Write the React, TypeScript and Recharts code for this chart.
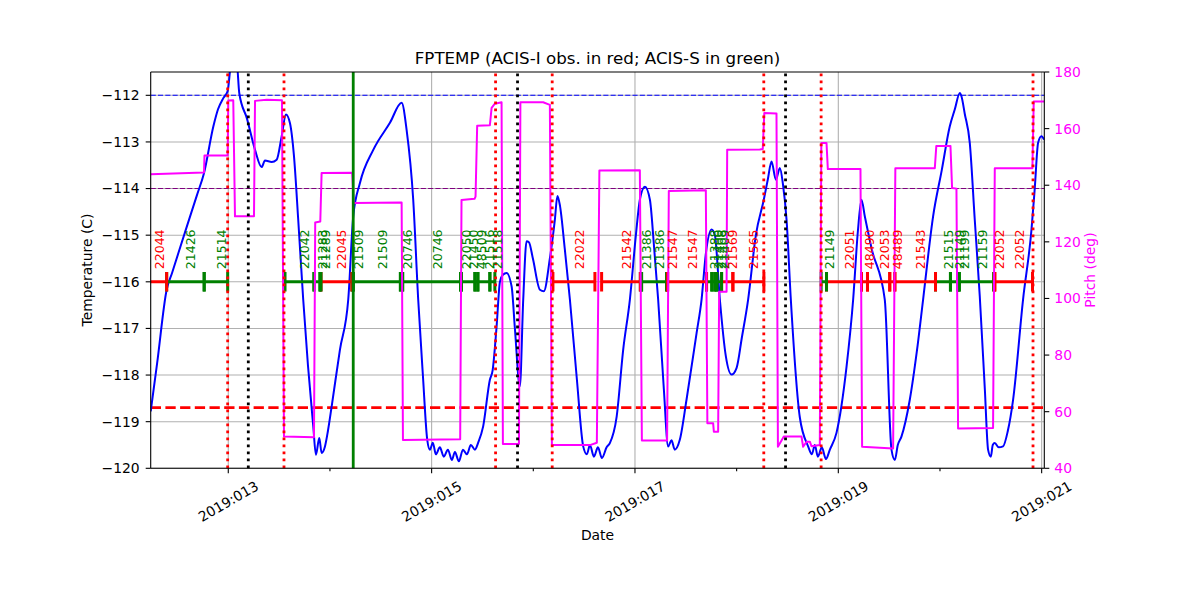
import React from 'react';
import { ComposedChart, Line, XAxis, YAxis, ReferenceLine, Scatter } from 'recharts';

// ---- Temperature (FPTEMP, deg C) vs day of year 2019 ----
const tempDays = [
  12.237, 12.300, 12.394, 12.447, 12.574, 12.692, 12.761, 12.853, 12.899, 12.951,
  12.994, 13.031, 13.083, 13.108,
  13.184, 13.263, 13.328, 13.361, 13.427, 13.476, 13.525, 13.567, 13.607, 13.646,
  13.688, 13.737, 13.784, 13.836, 13.862, 13.895, 13.918, 13.951, 13.980, 14.017,
  14.098, 14.180, 14.229, 14.295, 14.426, 14.590, 14.705, 14.754, 14.819, 14.868,
  14.914, 14.957, 14.983, 15.012, 15.042, 15.081, 15.120, 15.160, 15.199, 15.229,
  15.268, 15.308, 15.347, 15.386, 15.426, 15.458, 15.507, 15.573, 15.600, 15.639,
  15.672, 15.701, 15.737, 15.787, 15.819, 15.868, 15.901, 15.934, 15.957, 15.996,
  16.065, 16.104, 16.163, 16.212, 16.237, 16.261, 16.310, 16.360, 16.429, 16.491,
  16.527, 16.557, 16.596, 16.636, 16.675, 16.721, 16.753, 16.820, 16.884, 16.950,
  17.009, 17.048, 17.098, 17.147, 17.186, 17.228, 17.284, 17.326, 17.359, 17.392,
  17.441, 17.507, 17.606, 17.655, 17.697, 17.753, 17.786, 17.835, 17.894, 17.950,
  17.999, 18.051, 18.113, 18.189, 18.267, 18.307, 18.343, 18.386, 18.425, 18.455,
  18.491, 18.533, 18.621, 18.703, 18.740, 18.769, 18.799, 18.838, 18.878, 18.917,
  18.982, 19.081, 19.146, 19.193, 19.228, 19.261, 19.329, 19.457, 19.523, 19.556,
  19.585, 19.621, 19.703, 19.772, 19.834, 19.932, 20.018, 20.096, 20.146, 20.195,
  20.211, 20.244, 20.293, 20.342, 20.391, 20.441, 20.473, 20.500, 20.519, 20.539,
  20.578, 20.620, 20.667, 20.719, 20.817, 20.900, 20.932, 20.965, 20.998, 21.024,
];
const tempValues = [
  -118.78, -117.75, -116.17, -115.81, -114.94, -114.14, -113.67, -112.67, -112.30, -112.06,
  -111.91, -111.30, -111.30, -111.95,
  -112.50, -113.17, -113.54, -113.40, -113.43, -113.38, -112.88, -112.41, -112.60, -113.30,
  -114.67, -116.38, -117.80, -119.10, -119.71, -119.35, -119.67, -119.53, -119.20, -118.67,
  -117.46, -116.38, -114.60, -113.88, -113.17, -112.59, -112.16, -112.74, -114.24, -116.38,
  -118.00, -119.39, -119.60, -119.45, -119.70, -119.55, -119.75, -119.60, -119.82, -119.65,
  -119.85, -119.60, -119.70, -119.50, -119.60, -119.45, -119.10, -118.10, -117.90, -116.96,
  -116.00, -115.85, -115.81, -116.10, -117.00, -118.24, -116.38, -115.13, -115.15, -115.50,
  -116.17, -116.20, -115.50, -114.67, -114.16, -114.35, -115.30, -116.38, -118.10, -119.53,
  -119.70, -119.50, -119.75, -119.55, -119.78, -119.55, -119.46, -118.89, -117.46, -116.38,
  -115.00, -114.24, -113.96, -114.24, -115.20, -116.38, -118.30, -119.53, -119.40, -119.60,
  -119.39, -118.53, -117.10, -116.38, -115.40, -114.88, -115.00, -116.38, -117.60, -117.99,
  -117.85, -117.20, -116.38, -115.00, -114.24, -113.80, -113.42, -113.81, -113.56, -113.90,
  -114.67, -116.38, -118.90, -119.53, -119.70, -119.50, -119.75, -119.55, -119.80, -119.60,
  -119.24, -117.82, -116.38, -114.90, -114.24, -114.60, -115.30, -116.38, -119.60, -119.82,
  -119.50, -119.32, -118.53, -117.50, -116.38, -114.60, -113.60, -112.67, -112.30, -111.95,
  -112.02, -112.40, -113.02, -114.67, -116.30, -118.30, -119.60, -119.75, -119.50, -119.46,
  -119.55, -119.53, -119.20, -118.53, -116.38, -114.88, -114.00, -113.02, -112.88, -112.95,
];

// ---- Pitch (deg) ----
const pitchDays = [
  12.237, 12.761, 12.766, 12.994, 13.000, 13.049, 13.066, 13.253, 13.263, 13.378,
  13.528, 13.548, 13.843, 13.855, 13.905, 13.918, 14.219, 14.233, 14.705, 14.718,
  15.281, 15.294, 15.422, 15.432, 15.448, 15.573, 15.590, 15.622, 15.688, 15.701,
  15.859, 15.873, 16.097, 16.163, 16.183, 16.557, 16.625, 16.650, 17.048, 17.068,
  17.316, 17.333, 17.697, 17.712, 17.769, 17.776, 17.818, 17.828, 17.901, 17.907,
  18.228, 18.257, 18.272, 18.392, 18.406, 18.464, 18.638, 18.654, 18.688, 18.720,
  18.736, 18.818, 18.833, 18.884, 18.897, 19.218, 19.234, 19.539, 19.561, 19.949,
  19.964, 20.103, 20.119, 20.162, 20.178, 20.522, 20.539, 20.909, 20.922, 21.024,
];
const pitchValues = [
  143.9, 144.5, 150.5, 150.5, 169.9, 170.0, 129.0, 129.0, 169.8, 170.2,
  170.0, 51.2, 51.0, 126.8, 127.2, 144.3, 144.4, 133.7, 133.9, 50.0,
  50.3, 134.8, 135.2, 136.0, 161.0, 161.2, 167.3, 168.8, 169.3, 48.6,
  48.6, 169.3, 169.3, 168.4, 48.2, 48.2, 49.0, 145.2, 145.3, 49.8,
  49.8, 138.0, 138.2, 55.9, 55.9, 52.9, 52.9, 102.4, 102.4, 152.5,
  152.6, 152.8, 165.5, 165.3, 47.6, 51.2, 51.2, 47.6, 49.4, 49.4,
  47.8, 48.2, 154.9, 154.9, 145.7, 145.7, 47.6, 47.0, 146.0, 146.0,
  153.9, 153.9, 139.0, 138.8, 54.1, 54.2, 146.0, 146.0, 169.6, 169.6,
];

// ---- Observations (ACIS-I red, ACIS-S green) ----
const obsIds = [
  '22044', '21426', '21514', '22042', '21283', '21289', '22045', '21509', '21509', '20746',
  '20746', '22050', '21450', '48509', '21516', '21518', '22022', '21542', '21386', '21386',
  '21547', '21547', '21388', '21400', '21408', '21409', '21569', '21565', '21149', '22051',
  '48490', '22053', '48489', '21543', '21515', '21149', '21199', '21159', '22052', '22052',
];
const obsStart = [
  12.154, 12.394, 12.763, 13.558, 13.843, 13.902, 13.912, 14.216, 14.229, 14.693,
  14.715, 15.285, 15.293, 15.426, 15.455, 15.573, 16.193, 16.672, 17.053, 17.065,
  17.311, 17.321, 17.704, 17.756, 17.786, 17.805, 17.852, 17.963, 18.831, 18.884,
  19.228, 19.287, 19.506, 19.556, 19.956, 20.103, 20.178, 20.190, 20.529, 20.539,
];
const obsStop = [
  12.394, 12.763, 12.994, 13.843, 13.902, 13.912, 14.216, 14.229, 14.693, 14.715,
  15.285, 15.293, 15.426, 15.455, 15.573, 15.622, 16.606, 17.053, 17.065, 17.311,
  17.321, 17.704, 17.756, 17.786, 17.805, 17.852, 17.963, 18.268, 18.884, 19.228,
  19.287, 19.506, 19.556, 19.956, 20.103, 20.178, 20.190, 20.529, 20.539, 20.910,
];
const obsKind = [
  'I', 'S', 'S', 'S', 'S', 'S', 'I', 'S', 'S', 'S',
  'S', 'S', 'S', 'S', 'S', 'S', 'I', 'I', 'S', 'S',
  'I', 'I', 'S', 'S', 'S', 'S', 'I', 'I', 'S', 'I',
  'I', 'I', 'I', 'I', 'S', 'S', 'S', 'S', 'I', 'I',
];

// ---- Vertical event lines ----
const redDottedDays = [12.994, 13.548, 15.629, 16.186, 18.267, 18.831, 20.915];
const blackDottedDays = [13.197, 15.845, 18.481];
const greenSolidDays = [14.229];

// ---- Horizontal limits ----
const upperLimit = -112;
const planLimit = -114;
const lowerLimit = -118.7;
const obsTrackT = -116;
const obsLabelT = -115.73;

// ---- Axes ----
const xTicks = [13, 14, 15, 16, 17, 18, 19, 20, 21];
const majorDays = [13, 15, 17, 19, 21];
const tempTicks = [-120, -119, -118, -117, -116, -115, -114, -113, -112];
const pitchTicks = [40, 60, 80, 100, 120, 140, 160, 180];

const tempData = tempDays.map((d, i) => ({ d, t: tempValues[i] }));
const pitchData = pitchDays.map((d, i) => ({ d, p: pitchValues[i] }));
const labelData = obsIds.map((id, i) => ({
  d: (obsStart[i] + obsStop[i]) / 2,
  t: obsLabelT,
  id,
  kind: obsKind[i],
}));

const RED = '#ff0000';
const GREEN = '#008000';
const FONT = 'DejaVu Sans, sans-serif';
const kindColor = (k: string) => (k === 'I' ? RED : GREEN);

const fmtMinus = (v: number) => (v < 0 ? '\u2212' + Math.abs(v) : String(v));

const XTick = (props: any) => {
  const { x, y, payload } = props;
  const v = payload.value as number;
  const major = majorDays.includes(v);
  const axisY = y - 5;
  const cy = axisY + 33;
  return (
    <g>
      <line x1={x} x2={x} y1={axisY} y2={axisY + (major ? 5 : 3)} stroke="#000" strokeWidth={1.1} />
      {major && (
        <text
          x={x}
          y={cy}
          textAnchor="middle"
          dominantBaseline="central"
          transform={`rotate(-30 ${x} ${cy})`}
          fontSize={13.9}
          fontFamily={FONT}
          fill="#000"
        >
          {`2019:${String(v).padStart(3, '0')}`}
        </text>
      )}
    </g>
  );
};

const ObsLabel = (p: any) => {
  const { cx, cy, payload } = p;
  if (cx == null || cy == null) return <g />;
  const x = cx + 10;
  return (
    <text
      x={x}
      y={cy}
      transform={`rotate(-90 ${x} ${cy})`}
      textAnchor="start"
      fontSize={12.5}
      fontFamily={FONT}
      fill={kindColor(payload.kind)}
    >
      {payload.id}
    </text>
  );
};

export default function App() {
  return (
    <div style={{ position: 'absolute', left: 0, top: 0, width: 1200, height: 600, background: '#fff' }}>
      <ComposedChart
        width={1200}
        height={600}
        margin={{ top: 72, right: 95.7, bottom: 71.7, left: 80.7 }}
      >
        <XAxis
          dataKey="d"
          type="number"
          domain={[12.237, 21.026]}
          allowDataOverflow
          ticks={xTicks}
          interval={0}
          tick={<XTick />}
          tickLine={false}
          tickSize={5}
          tickMargin={0}
          height={60}
          axisLine={{ stroke: '#000', strokeWidth: 1.1 }}
        />
        <YAxis
          yAxisId="t"
          type="number"
          domain={[-120, -111.5]}
          allowDataOverflow
          ticks={tempTicks}
          interval={0}
          width={70}
          tickSize={5}
          tickMargin={6}
          tickFormatter={fmtMinus}
          tick={{ fill: '#000', fontSize: 13.9, fontFamily: FONT }}
          tickLine={{ stroke: '#000', strokeWidth: 1.1 }}
          axisLine={{ stroke: '#000', strokeWidth: 1.1 }}
        />
        <YAxis
          yAxisId="p"
          orientation="right"
          type="number"
          domain={[40, 180]}
          allowDataOverflow
          ticks={pitchTicks}
          interval={0}
          width={60}
          tickSize={5}
          tickMargin={5}
          tick={{ fill: '#ff00ff', fontSize: 13.9, fontFamily: FONT, textAnchor: 'start' }}
          tickLine={{ stroke: '#000', strokeWidth: 1.1 }}
          axisLine={{ stroke: '#000', strokeWidth: 1.1 }}
        />

        {/* grid */}
        {majorDays.map((d) => (
          <ReferenceLine key={'gx' + d} x={d} yAxisId="t" stroke="#b0b0b0" strokeWidth={1.1} />
        ))}
        {tempTicks.map((t) => (
          <ReferenceLine key={'gy' + t} y={t} yAxisId="t" stroke="#b0b0b0" strokeWidth={1.1} />
        ))}

        {/* limits */}
        <ReferenceLine y={upperLimit} yAxisId="t" stroke="#0000ff" strokeWidth={1.1} strokeDasharray="5.1 2.2" />
        <ReferenceLine y={planLimit} yAxisId="t" stroke="#800080" strokeWidth={1.1} strokeDasharray="5.1 2.2" />
        <ReferenceLine y={lowerLimit} yAxisId="t" stroke={RED} strokeWidth={2.8} strokeDasharray="10.3 4.4" />

        <Line
          yAxisId="t"
          data={tempData}
          dataKey="t"
          type="monotoneX"
          stroke="#0000ff"
          strokeWidth={2}
          strokeLinejoin="round"
          dot={false}
          activeDot={false}
          isAnimationActive={false}
        />

        {/* observation track */}
        {obsIds.map((id, i) => (
          <ReferenceLine
            key={'ob' + i}
            yAxisId="t"
            ifOverflow="hidden"
            segment={[{ x: obsStart[i], y: obsTrackT }, { x: obsStop[i], y: obsTrackT }]}
            stroke={kindColor(obsKind[i])}
            strokeWidth={3}
          />
        ))}
        {obsIds.map((id, i) => (
          <ReferenceLine
            key={'ts' + i}
            yAxisId="t"
            ifOverflow="hidden"
            segment={[{ x: obsStart[i], y: obsTrackT - 0.21 }, { x: obsStart[i], y: obsTrackT + 0.21 }]}
            stroke={kindColor(obsKind[i])}
            strokeWidth={3}
          />
        ))}
        {obsIds.map((id, i) => (
          <ReferenceLine
            key={'te' + i}
            yAxisId="t"
            ifOverflow="hidden"
            segment={[{ x: obsStop[i], y: obsTrackT - 0.21 }, { x: obsStop[i], y: obsTrackT + 0.21 }]}
            stroke={kindColor(obsKind[i])}
            strokeWidth={3}
          />
        ))}
        <Scatter
          yAxisId="t"
          data={labelData}
          dataKey="t"
          shape={<ObsLabel />}
          isAnimationActive={false}
        />

        <Line
          yAxisId="p"
          data={pitchData}
          dataKey="p"
          type="linear"
          stroke="#ff00ff"
          strokeWidth={2}
          strokeLinejoin="round"
          dot={false}
          activeDot={false}
          isAnimationActive={false}
        />

        {/* event lines */}
        {redDottedDays.map((d) => (
          <ReferenceLine key={'rd' + d} x={d} yAxisId="t" stroke={RED} strokeWidth={2.8} strokeDasharray="2.8 4.2" />
        ))}
        {blackDottedDays.map((d) => (
          <ReferenceLine key={'bd' + d} x={d} yAxisId="t" stroke="#000" strokeWidth={2.8} strokeDasharray="2.8 4.2" />
        ))}
        {greenSolidDays.map((d) => (
          <ReferenceLine key={'gs' + d} x={d} yAxisId="t" stroke={GREEN} strokeWidth={2.8} />
        ))}

        {/* top spine */}
        <ReferenceLine y={-111.5} yAxisId="t" stroke="#000" strokeWidth={1.1} />
      </ComposedChart>
      <svg
        width={1200}
        height={600}
        style={{ position: 'absolute', left: 0, top: 0, pointerEvents: 'none' }}
      >
        <text x={597.5} y={64} textAnchor="middle" fontSize={16.7} fontFamily={FONT} fill="#000">
          FPTEMP (ACIS-I obs. in red; ACIS-S in green)
        </text>
        <text x={597.5} y={540} textAnchor="middle" fontSize={13.9} fontFamily={FONT} fill="#000">
          Date
        </text>
        <text
          x={92}
          y={270}
          textAnchor="middle"
          transform="rotate(-90 92 270)"
          fontSize={13.9}
          fontFamily={FONT}
          fill="#000"
        >
          Temperature (C)
        </text>
        <text
          x={1095}
          y={270}
          textAnchor="middle"
          transform="rotate(-90 1095 270)"
          fontSize={13.9}
          fontFamily={FONT}
          fill="#ff00ff"
        >
          Pitch (deg)
        </text>
      </svg>
    </div>
  );
}
